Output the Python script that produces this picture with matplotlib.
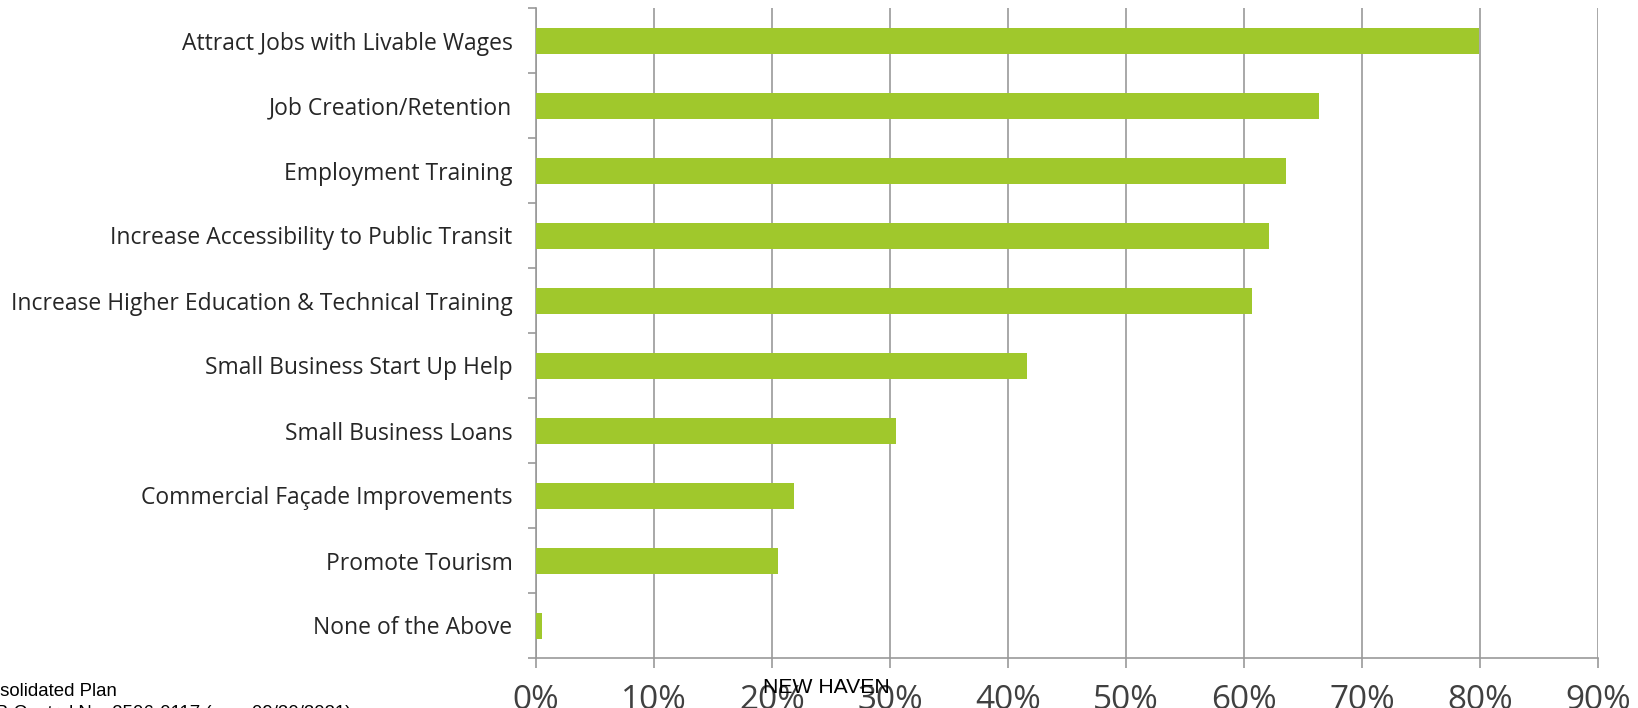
import matplotlib
matplotlib.use("Agg")
import matplotlib.pyplot as plt
import numpy as np
from matplotlib.ticker import FixedLocator

categories = [
    "Attract Jobs with Livable Wages",
    "Job Creation/Retention",
    "Employment Training",
    "Increase Accessibility to Public Transit",
    "Increase Higher Education & Technical Training",
    "Small Business Start Up Help",
    "Small Business Loans",
    "Commercial Façade Improvements",
    "Promote Tourism",
    "None of the Above",
]
values = [79.9, 66.3, 63.5, 62.1, 60.7, 41.6, 30.5, 21.9, 20.5, 0.5]
xticks = [0, 10, 20, 30, 40, 50, 60, 70, 80, 90]
xticklabels = [f"{t}%" for t in xticks]

W, H = 1638, 708
fig = plt.figure(figsize=(W / 100, H / 100), dpi=100)
ax = fig.add_axes([536 / W, 1 - 658 / H, (1598.3 - 536) / W, (658 - 8) / H])

ypos = np.arange(len(categories))
ax.barh(ypos, values, height=0.4, color="#A0C82C", zorder=3)
ax.set_xlim(0, 90)
ax.set_ylim(len(categories) - 0.5, -0.5)

grid_c = "#999999"
ax.set_xticks(xticks)
ax.set_xticklabels(xticklabels, fontsize=24, color="#404040", family="Open Sans")
ax.tick_params(axis="x", length=7, width=1.2, color=grid_c, pad=12, direction="out")
ax.grid(axis="x", color=grid_c, linewidth=1.2, zorder=0)

ax.set_yticks(ypos)
ax.set_yticklabels(categories, fontsize=16.5, color="#262626", family="Open Sans")
ax.tick_params(axis="y", which="major", length=0, pad=17)
ax.yaxis.set_minor_locator(FixedLocator(np.arange(-0.5, len(categories), 1.0)))
ax.tick_params(axis="y", which="minor", length=6, width=1.2, color=grid_c, direction="out")

for s in ["top", "right"]:
    ax.spines[s].set_visible(False)
for s in ["left", "bottom"]:
    ax.spines[s].set_color(grid_c)
    ax.spines[s].set_linewidth(1.2)
ax.set_axisbelow(True)

# Footer texts (partly cut off at the edges of the page)
fig.text(-34 / W, 1 - 696 / H, "Consolidated Plan", fontsize=13.4,
         family="Liberation Sans", color="black", va="baseline", ha="left")
fig.text(-34 / W, 1 - 718 / H, "OMB Control No: 2506-0117 (exp. 09/30/2021)", fontsize=13.4,
         family="Liberation Sans", color="black", va="baseline", ha="left")
fig.text(826 / W, 1 - 692.7 / H, "NEW HAVEN", fontsize=15.2,
         family="Liberation Sans", color="black", va="baseline", ha="center")

fig.savefig("out.png", dpi=100)
